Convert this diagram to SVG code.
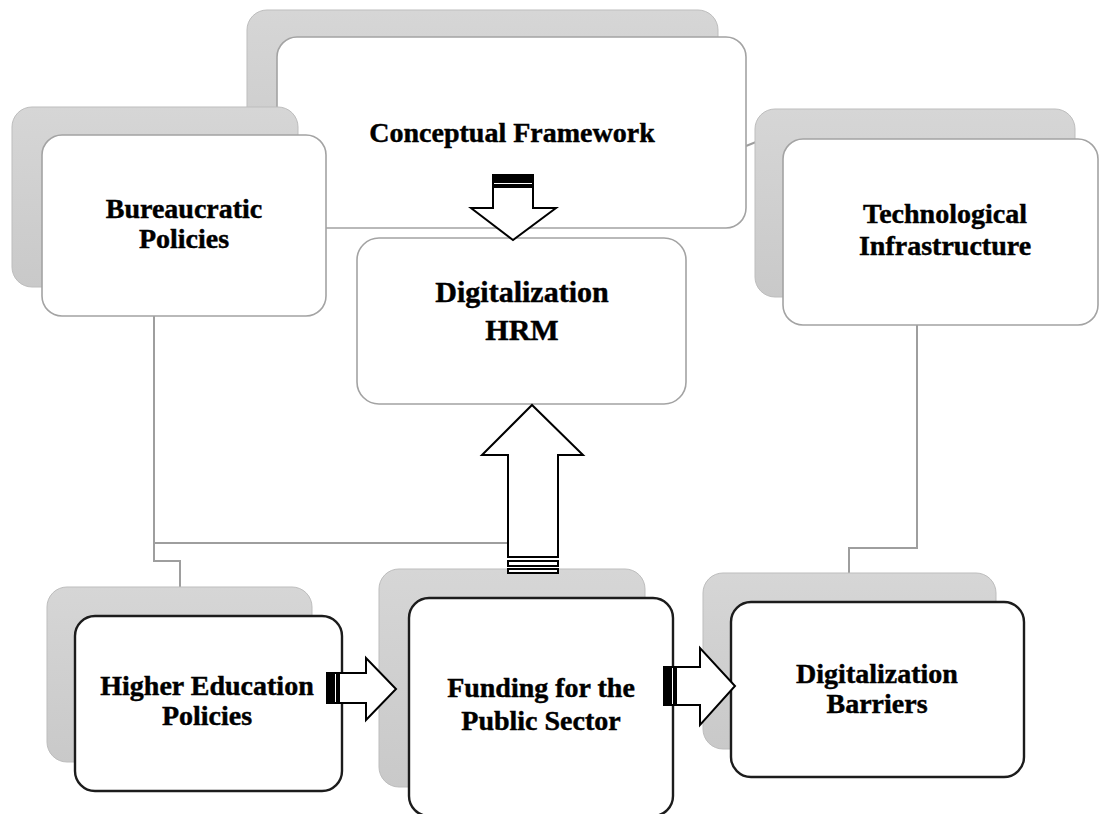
<svg xmlns="http://www.w3.org/2000/svg" width="1100" height="814" viewBox="0 0 1100 814">
  <defs>
    <linearGradient id="shade" x1="0" y1="0" x2="0" y2="1">
      <stop offset="0" stop-color="#d6d6d6"/>
      <stop offset="1" stop-color="#c9c9c9"/>
    </linearGradient>
    <style>
      .back { fill: url(#shade); stroke: #bdbdbd; stroke-width: 1; }
      .front { fill: #ffffff; stroke: #a3a3a3; stroke-width: 1.6; }
      .front-dark { fill: #ffffff; stroke: #1c1c1c; stroke-width: 2.4; }
      .label { font-family: "Liberation Serif", "Times New Roman", serif; font-weight: bold; font-size: 28px; fill: #000000; stroke: #000000; stroke-width: 0.45; text-anchor: middle; }
      .link { fill: none; stroke: #9e9e9e; stroke-width: 2; }
      .arrow { fill: #ffffff; stroke: #000000; stroke-width: 2; stroke-linejoin: miter; }
      .stripe { fill: #ffffff; stroke: #000000; stroke-width: 2; }
    </style>
  </defs>

  <rect width="1100" height="814" fill="#ffffff"/>

  <!-- thin grey links between the boxes -->
  <g id="connectors">
    <polyline class="link" points="154,316 154,543 520,543"/>
    <polyline class="link" points="154,543 154,561 180,561 180,588"/>
    <polyline class="link" points="917,325 917,548 849,548 849,574"/>
    <line class="link" x1="746" y1="146" x2="756" y2="142"/>
  </g>

  <g id="conceptual-framework">
    <rect class="back" x="247" y="10" width="471" height="191" rx="20"/>
    <rect class="front" x="277" y="37" width="469" height="191" rx="20"/>
    <text class="label" x="512" y="142">Conceptual Framework</text>
  </g>

  <g id="bureaucratic-policies">
    <rect class="back" x="12" y="107" width="286" height="180" rx="20"/>
    <rect class="front" x="42" y="135" width="284" height="181" rx="20"/>
    <text class="label" x="184" y="218">Bureaucratic</text>
    <text class="label" x="184" y="248">Policies</text>
  </g>

  <g id="technological-infrastructure">
    <rect class="back" x="755" y="109" width="320" height="188" rx="20"/>
    <rect class="front" x="783" y="139" width="315" height="186" rx="20"/>
    <text class="label" x="945" y="223">Technological</text>
    <text class="label" x="945" y="255">Infrastructure</text>
  </g>

  <g id="digitalization-hrm">
    <rect class="front" x="357" y="238" width="329" height="166" rx="22"/>
    <text class="label" x="522" y="302" style="font-size:30px">Digitalization</text>
    <text class="label" x="522" y="340" style="font-size:30px">HRM</text>
  </g>

  <g id="higher-education-policies">
    <rect class="back" x="47" y="587" width="265" height="175" rx="20"/>
    <rect class="front-dark" x="75" y="616" width="267" height="175" rx="20"/>
    <text class="label" x="207" y="695">Higher Education</text>
    <text class="label" x="207" y="725">Policies</text>
  </g>

  <g id="funding-public-sector">
    <rect class="back" x="379" y="569" width="266" height="218" rx="20"/>
    <rect class="front-dark" x="409" y="598" width="264" height="218" rx="20"/>
    <text class="label" x="541" y="697">Funding for the</text>
    <text class="label" x="541" y="730">Public Sector</text>
  </g>

  <g id="digitalization-barriers">
    <rect class="back" x="703" y="573" width="293" height="176" rx="20"/>
    <rect class="front-dark" x="731" y="602" width="293" height="175" rx="20"/>
    <text class="label" x="877" y="683">Digitalization</text>
    <text class="label" x="877" y="713">Barriers</text>
  </g>

  <!-- striped block arrows -->
  <g id="flow-arrows">
    <!-- framework down into HRM -->
    <g id="arrow-down">
      <rect class="stripe" x="493" y="175" width="40" height="5" style="fill:#000"/>
      <rect class="stripe" x="493" y="182" width="40" height="3"/>
      <polygon class="arrow" points="493,187 533,187 533,208 556,208 513,240 471,208 493,208"/>
    </g>
    <!-- funding up into HRM -->
    <g id="arrow-up">
      <polygon class="arrow" points="508,557 558,557 558,455 583,455 532,405 482,455 508,455"/>
      <rect class="stripe" x="508" y="561" width="50" height="5"/>
      <rect class="stripe" x="508" y="569" width="50" height="4"/>
    </g>
    <!-- higher education to funding -->
    <g id="arrow-right-1">
      <rect class="stripe" x="327" y="673" width="5" height="30" style="fill:#000"/>
      <rect class="stripe" x="334" y="673" width="3" height="30"/>
      <polygon class="arrow" points="339,673 366,673 366,658 396,689 366,720 366,703 339,703"/>
    </g>
    <!-- funding to barriers -->
    <g id="arrow-right-2">
      <rect class="stripe" x="664" y="667" width="5" height="38" style="fill:#000"/>
      <rect class="stripe" x="671" y="667" width="3" height="38"/>
      <polygon class="arrow" points="676,667 700,667 700,648 735,686 700,725 700,705 676,705"/>
    </g>
  </g>
</svg>
